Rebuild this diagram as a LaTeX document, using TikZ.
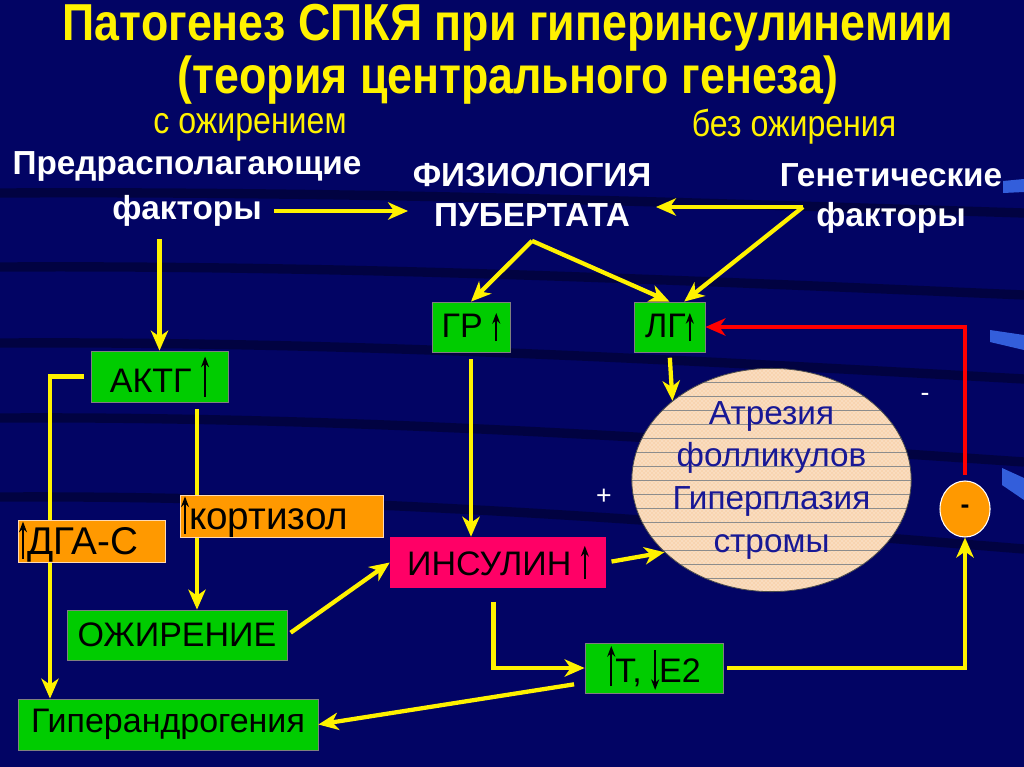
\documentclass[tikz,border=0pt]{standalone}
\usepackage{fontspec}
\setmainfont{Liberation Sans}
\usepackage{graphicx}
\usetikzlibrary{arrows.meta,shapes.geometric,patterns}

\definecolor{bgnavy}{RGB}{2,4,100}
\definecolor{boxgreen}{RGB}{0,204,0}
\definecolor{boxorange}{RGB}{255,153,0}
\definecolor{boxpink}{RGB}{255,0,102}
\definecolor{ovpeach}{RGB}{248,212,176}
\definecolor{ovtext}{RGB}{24,24,150}
\definecolor{edgeblue}{RGB}{60,110,240}

\newcommand{\narrow}[1]{\scalebox{0.86}[1]{#1}}
\newcommand{\upa}[1]{\tikz[baseline=0pt]\draw[line width=1.8pt,-{Stealth[length=8pt,width=6pt]}] (0pt,-3pt) -- (0pt,#1);}
\newcommand{\dna}[1]{\tikz[baseline=0pt]\draw[line width=1.8pt,-{Stealth[length=8pt,width=6pt]}] (0pt,#1) -- (0pt,-6pt);}

\tikzset{
  sz/.style 2 args={minimum width=#1*0.75pt, minimum height=#2*0.75pt},
  titletxt/.style={text=yellow, font=\fontsize{39}{44}\selectfont\bfseries, inner sep=0pt, align=center},
  subtxt/.style={text=yellow, font=\fontsize{28}{32}\selectfont, inner sep=0pt},
  lbl/.style={text=white, font=\fontsize{25}{30}\selectfont\bfseries, align=center},
  box/.style={inner sep=0pt, font=\fontsize{25.5}{29}\selectfont, text=black},
  gbox/.style={box, fill=boxgreen, draw=black!50, line width=0.6pt},
  obox/.style={box, fill=boxorange, draw=white!70!orange, line width=0.6pt, font=\fontsize{29}{32}\selectfont},
  pbox/.style={box, fill=boxpink},
  flow/.style={draw=yellow, line width=3.2pt, -{Stealth[length=15pt,width=13pt,inset=4.5pt]}},
  fb/.style={flow, draw=red},
  signlbl/.style={text=white, font=\fontsize{20}{24}\selectfont}
}

\begin{document}
\begin{tikzpicture}[x=0.75pt,y=-0.75pt]
\useasboundingbox (0,0) rectangle (1024,767);
\fill[bgnavy] (0,0) rectangle (1024,767);
\foreach \y/\d in {193/10, 267/14, 343/18, 418/22, 497/26}
  \draw[black, opacity=0.35, line width=7pt] (0,\y) .. controls (350,\y-2) and (700,\y+\d) .. (1024,\y+2*\d);
\fill[edgeblue, opacity=0.85] (1003,181) -- (1024,179) -- (1024,192) -- (1003,193) -- cycle;
\fill[edgeblue, opacity=0.85] (990,330) -- (1024,335) -- (1024,350) -- (990,342) -- cycle;
\fill[edgeblue, opacity=0.85] (1002,468) -- (1024,478) -- (1024,500) -- (1002,485) -- cycle;

\node[titletxt] (title) at (508,54) {\narrow{Патогенез СПКЯ при гиперинсулинемии}\\[-4pt]\narrow{(теория центрального генеза)}};
\node[subtxt] (s1) at (250,127) {\narrow{с ожирением}};
\node[subtxt] (s2) at (794,127) {\narrow{без ожирения}};

\node[lbl] (pred1) at (187,166) {Предрасполагающие};
\node[lbl] (pred2) at (187,211) {факторы};
\node[lbl] (phys) at (532,195) {ФИЗИОЛОГИЯ\\ПУБЕРТАТА};
\node[lbl] (gen) at (891,198) {Генетические\\факторы};
\coordinate (genpt) at (803,207);

\node[gbox, sz={78}{50}] (gr) at (471,327) {ГР \upa{18pt}};
\node[gbox, sz={71}{50}] (lg) at (669.5,327) {ЛГ\upa{18pt}};
\node[gbox, sz={137}{51}] (aktg) at (159.5,376.5) {АКТГ \upa{27pt}};
\node[pbox, sz={216}{51}] (ins) at (498,562.5) {ИНСУЛИН \upa{22pt}};
\node[gbox, sz={220}{50}] (ozh) at (177,635) {ОЖИРЕНИЕ};
\node[gbox, sz={138}{50}] (te) at (654,668) {\upa{27pt}Т, \dna{24pt}Е2};
\node[gbox, sz={300}{51}] (hyper) at (168,724.5) {Гиперандрогения};
\node[ellipse, sz={273}{204}, fill=ovpeach, draw=black!70, line width=0.6pt,
  inner sep=0pt, text=ovtext, align=center, font=\fontsize{25}{32}\selectfont,
  path picture={
    \fill[pattern=crosshatch dots, pattern color=white!85!ovpeach]
      (path picture bounding box.south west) rectangle (path picture bounding box.north east);
    \foreach \k in {-7,...,7}
      \draw[black!45, line width=0.5pt] ([yshift=\k*10.5pt]path picture bounding box.west)
        -- ([yshift=\k*10.5pt]path picture bounding box.east);
  }] (ovary) at (771.5,480) {Атрезия\\фолликулов\\Гиперплазия\\стромы};
\node[ellipse, sz={50}{56}, inner sep=0pt, fill=boxorange, draw=white!80, line width=0.8pt,
  font=\fontsize{20}{24}\selectfont\bfseries] (circ) at (965,509) {-};

\coordinate (dgaline) at (50,0);
\coordinate (kortline) at (197,0);

\draw[flow, shorten <=6pt] (pred2.east) -- (pred2.east -| phys.west);
\draw[flow] (genpt) -- (genpt -| phys.east);
\draw[flow] (genpt) -- (lg.60);
\draw[flow] ([yshift=-7pt]phys.south) -- (gr.north);
\draw[flow] ([yshift=-7pt]phys.south) -- (lg.north);
\draw[flow, shorten <=6pt] (aktg.north |- pred2.south) -- (aktg.north);
\draw[flow, shorten <=5pt] (aktg.west) -- (aktg.west -| dgaline) -- (hyper.north -| dgaline);
\draw[flow, shorten <=5pt] (aktg.south -| kortline) -- (ozh.north -| kortline);
\draw[flow, shorten <=5pt] (gr.south) -- (gr.south |- ins.north);
\draw[flow, shorten <=4pt] (lg.south) -- (ovary.north west);
\draw[flow, shorten <=3pt] (ozh.east) -- (ins.west);
\draw[flow, shorten <=4pt] (ins.east) -- (ovary.214);
\draw[flow, shorten <=10pt] (ins.-100) -- (ins.-100 |- te.west) -- (te.west);
\draw[flow, shorten <=8pt] ([yshift=-11pt]te.west) -- (hyper.east);
\draw[flow, shorten <=3pt] (te.east) -- (te.east -| circ.south) -- (circ.south);
\draw[fb, shorten <=4pt] (circ.north) -- (circ.north |- lg.east) -- (lg.east);

\node[obox, sz={147}{41}, text width=145*0.75pt, align=left] (dga) at (91.5,541.5) {\upa{25pt}ДГА-С};
\node[obox, sz={203}{41}, text width=201*0.75pt, align=left] (kort) at (281.5,516.5) {\upa{25pt}кортизол};

\node[signlbl] (plus) at (604,497) {+};
\node[signlbl] (minus) at (925,397) {-};
\end{tikzpicture}
\end{document}
